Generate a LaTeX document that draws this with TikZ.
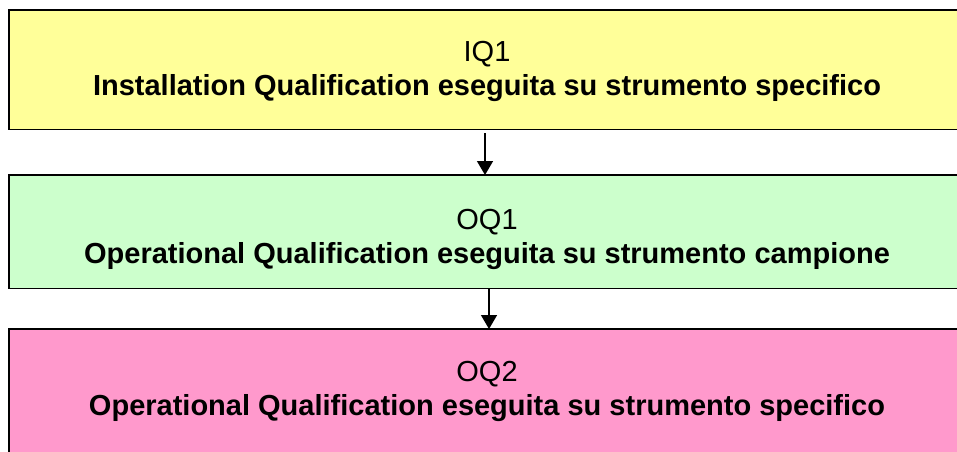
\documentclass[tikz,border=0pt]{standalone}
\usepackage{fontspec}
\setmainfont{Liberation Sans}
\usetikzlibrary{arrows.meta}

\begin{document}
\begin{tikzpicture}[x=1pt,y=1pt]
\definecolor{iqcolor}{RGB}{255,255,153}
\definecolor{oqonecolor}{RGB}{204,255,204}
\definecolor{oqtwocolor}{RGB}{255,153,204}
\definecolor{linecolor}{RGB}{0,0,0}
\tikzset{
  phasebox/.style={rectangle,minimum width=948pt,inner sep=0pt,anchor=north west},
  phaseedge/.style={draw=linecolor,line width=1.7pt,line join=miter},
  phasetext/.style={align=center,font=\fontsize{29}{34}\selectfont,inner sep=0pt},
  flow/.style={draw=linecolor,line width=1.5pt,-{Triangle[width=16pt,length=14pt]}}
}
\useasboundingbox (0,0) rectangle (957,-451);
% boxes (open at the right edge)
\node [phasebox,fill=iqcolor,minimum height=119pt] (iq) at (9,-10) {};
\node [phasebox,fill=oqonecolor,minimum height=113pt] (oq1) at (9,-175) {};
\node [phasebox,fill=oqtwocolor,minimum height=130pt] (oq2) at (9,-329) {};
\draw [phaseedge] (iq.north east) -- (iq.north west) -- (iq.south west) -- (iq.south east);
\draw [phaseedge] (oq1.north east) -- (oq1.north west) -- (oq1.south west) -- (oq1.south east);
\draw [phaseedge] (oq2.north east) -- (oq2.north west) -- (oq2.south west);
% texts
\node [phasetext] (iqtext) at (487,-71)
  {IQ1\\\textbf{Installation Qualification eseguita su strumento specifico}};
\node [phasetext] (oq1text) at (487,-239.4)
  {OQ1\\\textbf{Operational Qualification eseguita su strumento campione}};
\node [phasetext] (oq2text) at (487,-391)
  {OQ2\\\textbf{Operational Qualification eseguita su strumento specifico}};
% arrows
\draw [flow] ([xshift=-2pt,yshift=-4pt]iqtext.south |- iq.south) -- ([xshift=-2pt]iqtext.south |- oq1.north);
\draw [flow] ([xshift=2pt]oq1text.south |- oq1.south) -- ([xshift=2pt]oq1text.south |- oq2.north);
\end{tikzpicture}
\end{document}
